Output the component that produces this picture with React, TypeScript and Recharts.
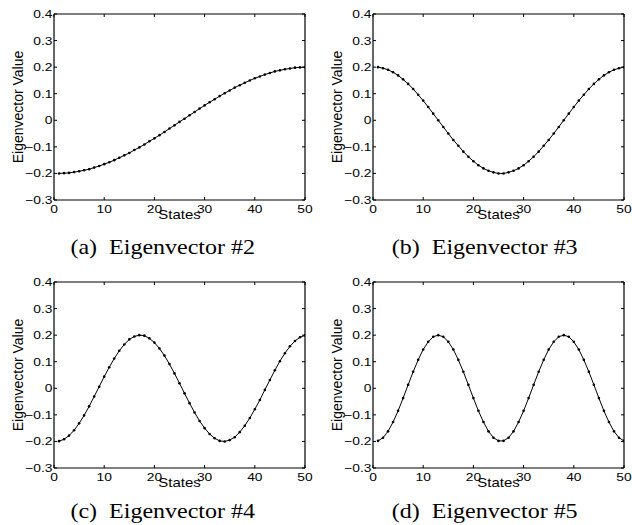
import React from "react"
import { LineChart, Line, XAxis, YAxis } from "recharts"

// 50 states on the x axis
const states = [
  1, 2, 3, 4, 5, 6, 7, 8, 9, 10, 11, 12, 13, 14, 15, 16, 17, 18, 19, 20, 21, 22, 23, 24, 25,
  26, 27, 28, 29, 30, 31, 32, 33, 34, 35, 36, 37, 38, 39, 40, 41, 42, 43, 44, 45, 46, 47, 48, 49, 50,
]

const eigen2 = [
  -0.2, -0.199, -0.198, -0.195, -0.192, -0.188, -0.184, -0.178, -0.172, -0.165,
  -0.158, -0.15, -0.141, -0.132, -0.123, -0.112, -0.102, -0.091, -0.079, -0.068,
  -0.056, -0.044, -0.031, -0.019, -0.006, 0.006, 0.019, 0.031, 0.044, 0.056,
  0.068, 0.079, 0.091, 0.102, 0.112, 0.123, 0.132, 0.141, 0.15, 0.158,
  0.165, 0.172, 0.178, 0.184, 0.188, 0.192, 0.195, 0.198, 0.199, 0.2,
]

const eigen3 = [
  0.2, 0.196, 0.19, 0.181, 0.169, 0.154, 0.137, 0.118, 0.096, 0.074,
  0.05, 0.025, 0, -0.025, -0.05, -0.074, -0.096, -0.118, -0.137, -0.154,
  -0.169, -0.181, -0.19, -0.196, -0.2, -0.2, -0.196, -0.19, -0.181, -0.169,
  -0.154, -0.137, -0.118, -0.096, -0.074, -0.05, -0.025, 0, 0.025, 0.05,
  0.074, 0.096, 0.118, 0.137, 0.154, 0.169, 0.181, 0.19, 0.196, 0.2,
]

const eigen4 = [
  -0.199, -0.192, -0.178, -0.158, -0.132, -0.102, -0.068, -0.031, 0.006, 0.044,
  0.079, 0.112, 0.141, 0.165, 0.184, 0.195, 0.2, 0.198, 0.188, 0.172,
  0.15, 0.123, 0.091, 0.056, 0.019, -0.019, -0.056, -0.091, -0.123, -0.15,
  -0.172, -0.188, -0.198, -0.2, -0.195, -0.184, -0.165, -0.141, -0.112, -0.079,
  -0.044, -0.006, 0.031, 0.068, 0.102, 0.132, 0.158, 0.178, 0.192, 0.199,
]

const eigen5 = [
  -0.198, -0.186, -0.162, -0.127, -0.085, -0.037, 0.013, 0.062, 0.107, 0.146,
  0.175, 0.194, 0.2, 0.194, 0.175, 0.146, 0.107, 0.062, 0.013, -0.037,
  -0.085, -0.127, -0.162, -0.186, -0.198, -0.198, -0.186, -0.162, -0.127, -0.085,
  -0.037, 0.013, 0.062, 0.107, 0.146, 0.175, 0.194, 0.2, 0.194, 0.175,
  0.146, 0.107, 0.062, 0.013, -0.037, -0.085, -0.127, -0.162, -0.186, -0.198,
]

const xTicks = [0, 10, 20, 30, 40, 50]
const yTicks = [-0.3, -0.2, -0.1, 0, 0.1, 0.2, 0.3, 0.4]

const SANS = "'Liberation Sans', Arial, Helvetica, sans-serif"
const SERIF = "'Liberation Serif', 'Times New Roman', serif"

const fmtY = (v: number) => (v === 0 ? "0" : (v < 0 ? "\u2212" : "") + Math.abs(v).toFixed(1))

const XTick = (props: any) => {
  const { x, y, payload } = props
  return (
    <g>
      <line x1={x} y1={y} x2={x} y2={y - 3} stroke="#000" strokeWidth={1} />
      <text
        transform={`translate(${x},${y + 13}) scale(1.2,1)`}
        textAnchor="middle"
        fontSize={11.5}
        fontFamily={SANS}
        fill="#000"
      >
        {payload.value}
      </text>
    </g>
  )
}

const YTick = (props: any) => {
  const { x, y, payload } = props
  return (
    <g>
      <line x1={x} y1={y} x2={x + 3} y2={y} stroke="#000" strokeWidth={1} />
      <text
        transform={`translate(${x - 1.5},${y + 4}) scale(1.2,1)`}
        textAnchor="end"
        fontSize={11.5}
        fontFamily={SANS}
        fill="#000"
      >
        {fmtY(payload.value)}
      </text>
    </g>
  )
}

const TopTick = (props: any) => (
  <line x1={props.x} y1={props.y} x2={props.x} y2={props.y + 3} stroke="#000" strokeWidth={1} />
)

const RightTick = (props: any) => (
  <line x1={props.x} y1={props.y} x2={props.x - 3} y2={props.y} stroke="#000" strokeWidth={1} />
)

const XTitle = (props: any) => {
  const vb = props.viewBox
  return (
    <text
      transform={`translate(${vb.x + vb.width / 2},${vb.y + 19}) scale(1.15,1)`}
      textAnchor="middle"
      fontSize={13}
      fontFamily={SANS}
      fill="#000"
    >
      States
    </text>
  )
}

const YTitle = (props: any) => {
  const vb = props.viewBox
  return (
    <text
      transform={`translate(${vb.x + vb.width - 36},${vb.y + vb.height / 2}) rotate(-90)`}
      textAnchor="middle"
      dominantBaseline="central"
      fontSize={14}
      fontFamily={SANS}
      fill="#000"
    >
      Eigenvector Value
    </text>
  )
}

type PanelProps = {
  values: number[]
  left: number
  top: number
  axisWidth: number
  rightMargin: number
}

function Panel({ values, left, top, axisWidth, rightMargin }: PanelProps) {
  const rows = states.map((s, i) => ({ state: s, value: values[i] }))
  const axisLine = { stroke: "#000", strokeWidth: 1.2 }
  return (
    <div style={{ position: "absolute", left, top }}>
      <LineChart width={316} height={226} data={rows} margin={{ top: 13, right: rightMargin - 1, left: 0, bottom: 0 }}>
        <XAxis
          dataKey="state"
          type="number"
          domain={[0, 50]}
          ticks={xTicks}
          interval={0}
          height={26}
          tickSize={0}
          tickMargin={0}
          tickLine={false}
          axisLine={axisLine}
          tick={<XTick />}
          label={<XTitle />}
          allowDataOverflow
        />
        <XAxis
          xAxisId="top"
          orientation="top"
          dataKey="state"
          type="number"
          domain={[0, 50]}
          ticks={xTicks}
          interval={0}
          height={1}
          tickSize={0}
          tickMargin={0}
          tickLine={false}
          axisLine={axisLine}
          tick={<TopTick />}
          allowDataOverflow
        />
        <YAxis
          type="number"
          domain={[-0.3, 0.4]}
          ticks={yTicks}
          interval={0}
          width={axisWidth}
          tickSize={0}
          tickMargin={0}
          tickLine={false}
          axisLine={axisLine}
          tick={<YTick />}
          label={<YTitle />}
          allowDataOverflow
        />
        <YAxis
          yAxisId="right"
          orientation="right"
          type="number"
          domain={[-0.3, 0.4]}
          ticks={yTicks}
          interval={0}
          width={1}
          tickSize={0}
          tickMargin={0}
          tickLine={false}
          axisLine={axisLine}
          tick={<RightTick />}
          allowDataOverflow
        />
        {/* invisible twin so the top / right box axes get drawn */}
        <Line
          xAxisId="top"
          yAxisId="right"
          type="linear"
          dataKey="value"
          stroke="none"
          dot={false}
          activeDot={false}
          isAnimationActive={false}
        />
        <Line
          type="linear"
          dataKey="value"
          stroke="#000"
          strokeWidth={1}
          dot={{ r: 1.3, fill: "#000", stroke: "none" }}
          isAnimationActive={false}
        />
      </LineChart>
    </div>
  )
}

const Caption = ({ x, y, text }: { x: number; y: number; text: string }) => (
  <text transform={`translate(${x},${y}) scale(1.2,1)`} textAnchor="middle" fontSize={20} fontFamily={SERIF} fill="#000">
    {text}
  </text>
)

export default function App() {
  return (
    <div style={{ position: "absolute", left: 0, top: 0, width: 632, height: 525, background: "#fff", overflow: "hidden" }}>
      <Panel values={eigen2} left={0} top={0} axisWidth={54} rightMargin={11} />
      <Panel values={eigen3} left={316} top={0} axisWidth={57} rightMargin={8} />
      <Panel values={eigen4} left={0} top={268} axisWidth={54} rightMargin={11} />
      <Panel values={eigen5} left={316} top={268} axisWidth={57} rightMargin={8} />
      <svg width={632} height={525} style={{ position: "absolute", left: 0, top: 0, pointerEvents: "none" }}>
        <Caption x={162.7} y={253.7} text={"(a)\u00a0 Eigenvector #2"} />
        <Caption x={484.7} y={253.7} text={"(b)\u00a0 Eigenvector #3"} />
        <Caption x={162.7} y={518} text={"(c)\u00a0 Eigenvector #4"} />
        <Caption x={484.7} y={518} text={"(d)\u00a0 Eigenvector #5"} />
      </svg>
    </div>
  )
}
